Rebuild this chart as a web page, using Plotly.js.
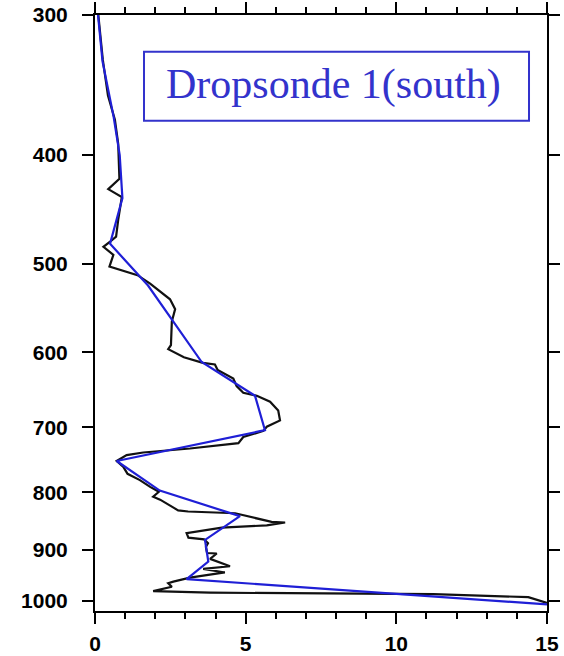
<!DOCTYPE html>
<html>
<head>
<meta charset="utf-8">
<script src="https://cdn.plot.ly/plotly-3.0.1.min.js"></script>
<style>
  html, body { margin: 0; padding: 0; background: #fff; }
  #chart { width: 564px; height: 656px; }
</style>
</head>
<body>
<div id="chart"></div>
<script>
// Raw dropsonde profile (value vs pressure, hPa)
const rawValue = [0.11, 0.26, 0.43, 0.66, 0.77, 0.81, 0.44, 0.89, 0.77, 0.70, 0.50, 0.28, 0.61, 0.48,
  1.41, 1.83, 2.49, 2.66, 2.55, 2.52, 2.43, 2.95, 3.58, 3.98, 4.07, 4.59, 4.70, 4.92, 5.37, 5.81,
  6.08, 6.14, 5.70, 5.59, 4.92, 4.76, 3.15, 1.60, 1.05, 0.72, 0.94, 1.08, 1.49, 1.83, 2.12, 1.93,
  2.16, 2.76, 3.09, 4.65, 5.86, 6.31, 5.70, 4.21, 3.04, 3.10, 3.62, 3.75, 3.68, 3.72, 4.04, 3.82,
  4.48, 3.59, 4.31, 3.15, 2.60, 2.43, 2.55, 1.93, 3.82, 6.80, 11.23, 14.38, 15.0];
const rawPressure = [300, 329, 354, 372, 391, 420, 429, 436, 457, 473, 478, 483, 491, 503,
  512, 521, 538, 549, 563, 591, 596, 606, 613, 615, 622, 633, 643, 652, 656, 664,
  676, 690, 699, 705, 714, 723, 731, 737, 741, 750, 759, 770, 780, 791, 799, 807,
  812, 830, 832, 835, 850, 851, 856, 860, 870, 878, 881, 888, 895, 906, 907, 917,
  931, 936, 943, 953, 961, 964, 971, 980, 983, 984, 986, 992, 1004];

// Smoothed profile through selected levels
const fitValue = [0.10, 0.25, 0.62, 0.82, 0.91, 0.50, 1.76, 3.54, 5.31, 5.64, 0.72, 2.15, 4.81, 3.65, 3.76, 3.04, 15.0];
const fitPressure = [300, 330, 370, 400, 437, 480, 523, 612, 656, 704, 750, 797, 840, 882, 922, 956, 1007];

// Axis ticks
const xTicks = [0, 5, 10, 15];
const yTicks = [300, 400, 500, 600, 700, 800, 900, 1000];
const chartTitle = 'Dropsonde 1(south)';

const tickFont = { family: 'Liberation Sans, Arial, sans-serif', size: 21, color: '#000', weight: 'bold' };

const traces = [
  {
    x: rawValue, y: rawPressure, type: 'scatter', mode: 'lines',
    line: { color: '#111', width: 2.2 }, hoverinfo: 'skip'
  },
  {
    x: fitValue, y: fitPressure, type: 'scatter', mode: 'lines',
    line: { color: '#1f1fd6', width: 2.2 }, hoverinfo: 'skip'
  }
];

const layout = {
  width: 564, height: 656,
  margin: { l: 95, r: 17, t: 15, b: 45 },
  paper_bgcolor: '#fff', plot_bgcolor: '#fff',
  showlegend: false,
  xaxis: {
    range: [0, 15], showgrid: false, zeroline: false,
    showline: true, linecolor: '#000', linewidth: 2, mirror: 'allticks',
    ticks: 'outside', ticklen: 11, tickwidth: 2, tickcolor: '#000',
    tickvals: xTicks, ticktext: xTicks.map(String),
    tickfont: tickFont, ticklabelstandoff: 2,
    minor: { dtick: 1, ticks: 'outside', ticklen: 6, tickwidth: 2, tickcolor: '#000', showgrid: false }
  },
  yaxis: {
    type: 'log',
    range: [Math.log10(1020.7), Math.log10(300)],
    showgrid: false, zeroline: false,
    showline: true, linecolor: '#000', linewidth: 2, mirror: 'allticks',
    ticks: 'outside', ticklen: 11, tickwidth: 2, tickcolor: '#000',
    tickvals: yTicks, ticktext: yTicks.map(String),
    tickfont: tickFont, ticklabelstandoff: 10
  },
  shapes: [{
    type: 'rect', xref: 'paper', yref: 'paper',
    x0: 0.1084, x1: 0.9602, y0: 0.8226, y1: 0.9384,
    line: { color: '#3333cc', width: 2 }, fillcolor: 'rgba(0,0,0,0)'
  }],
  annotations: [{
    text: chartTitle, xref: 'paper', yref: 'paper',
    x: 0.5277, y: 0.883, xanchor: 'center', yanchor: 'middle',
    showarrow: false,
    font: { family: 'Liberation Serif, Times New Roman, serif', size: 42, color: '#3333cc' }
  }]
};

Plotly.newPlot('chart', traces, layout, { staticPlot: true, displayModeBar: false });
</script>
</body>
</html>
